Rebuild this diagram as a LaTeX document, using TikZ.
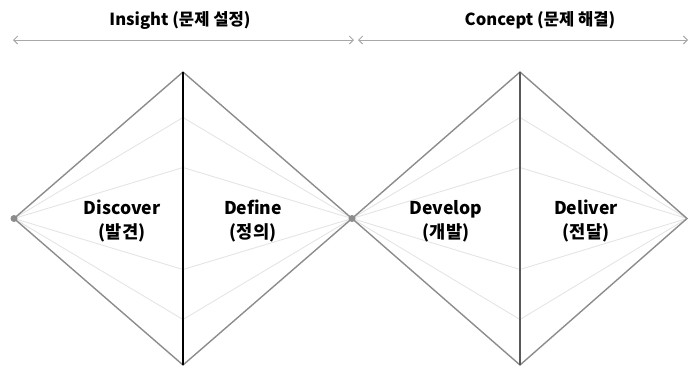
\documentclass[tikz,border=0pt]{standalone}
\usepackage{fontspec}
\setmainfont{Noto Sans CJK KR}
\usetikzlibrary{arrows.meta}
\definecolor{outer}{HTML}{8C8C8C}
\definecolor{inner}{HTML}{E4E4E4}
\definecolor{arr}{HTML}{A8A8A8}
\tikzset{
  outerline/.style={draw=outer,line width=1.4pt,line join=miter},
  innerline/.style={draw=inner,line width=0.9pt},
  midline/.style={line width=1.3pt},
  topar/.style={draw=arr,line width=1pt,{Straight Barb[length=4pt,width=8pt]}-{Straight Barb[length=4pt,width=8pt]}},
  vdot/.style={circle,fill=outer,inner sep=0pt,minimum size=7pt},
  title/.style={font=\bfseries\fontsize{16.6}{18}\selectfont,inner sep=0pt},
  phase/.style={font=\bfseries\fontsize{17.6}{24}\selectfont,inner sep=0pt,align=center}
}
\begin{document}
\begin{tikzpicture}[x=1pt,y=-1pt]
\useasboundingbox (0,0) rectangle (688,368);
% vertices
\coordinate (L) at (14,218.5);
\coordinate (M) at (352,218.5);
\coordinate (R) at (687,218.5);
\coordinate (T1) at (183,72);
\coordinate (B1) at (183,365);
\coordinate (T2) at (520,72);
\coordinate (B2) at (520,365);
\foreach \n/\dy in {1/-101,2/-51,3/51,4/101}{
  \coordinate (a\n) at (183,218.5+\dy);
  \coordinate (b\n) at (520,218.5+\dy);
}
% inner kites
\foreach \n in {1,2,3,4}{
  \draw[innerline] (L) -- (a\n) -- (M);
  \draw[innerline] (M) -- (b\n) -- (R);
}
% outer diamonds
\draw[outerline] (L) -- (T1) -- (M) -- (B1) -- cycle;
\draw[outerline] (M) -- (T2) -- (R) -- (B2) -- cycle;
% middle lines
\draw[midline,black] (T1) -- (B1);
\draw[midline,draw=black!65] (T2) -- (B2);
% dots
\node[vdot] (dL) at (L) {};
\node[vdot] (dM) at (M) {};
% top arrows
\coordinate (arL1) at (13,40);
\coordinate (arL2) at (354,40);
\coordinate (arR1) at (358,40);
\coordinate (arR2) at (688,40);
\draw[topar] (arL1) -- (arL2);
\draw[topar] (arR1) -- (arR2);
% titles
\node[title] (t1) at (180,20.5) {Insight (문제 설정)};
\node[title] (t2) at (540,20.5) {Concept (문제 해결)};
% phase labels
\node[phase] (p1) at (122,221) {Discover\\(발견)};
\node[phase] (p2) at (253,221) {Define\\(정의)};
\node[phase] (p3) at (446,221) {Develop\\(개발)};
\node[phase] (p4) at (586,221) {Deliver\\(전달)};
\end{tikzpicture}
\end{document}
